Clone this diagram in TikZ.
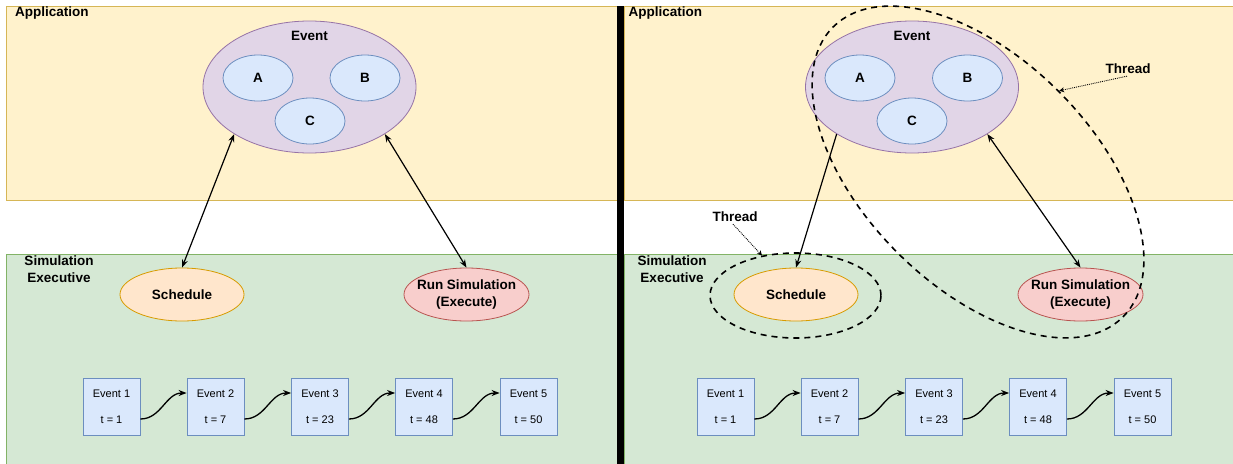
\documentclass[tikz,border=0pt]{standalone}
\usepackage{fontspec}
\setmainfont{Liberation Sans}
\usetikzlibrary{shapes.geometric,arrows.meta}
\definecolor{ylwF}{HTML}{FFF2CC}\definecolor{ylwD}{HTML}{D6B656}
\definecolor{grnF}{HTML}{D5E8D4}\definecolor{grnD}{HTML}{82B366}
\definecolor{purF}{HTML}{E1D5E7}\definecolor{purD}{HTML}{9673A6}
\definecolor{bluF}{HTML}{DAE8FC}\definecolor{bluD}{HTML}{6C8EBF}
\definecolor{orgF}{HTML}{FFE6CC}\definecolor{orgD}{HTML}{D79B00}
\definecolor{redF}{HTML}{F8CECC}\definecolor{redD}{HTML}{B85450}
\begin{document}
\begin{tikzpicture}[x=1pt,y=-1pt,
  >={Stealth[length=8pt,width=6pt]},
  lbl/.style={font=\fontsize{13.5}{16.5}\selectfont\bfseries, inner sep=0pt},
  panelY/.style={fill=ylwF, draw=ylwD, line width=0.9pt},
  panelG/.style={fill=grnF, draw=grnD, line width=0.9pt},
  bigev/.style={ellipse, draw=purD, fill=purF, line width=0.8pt, inner sep=0pt,
    minimum width=213pt, minimum height=132pt},
  subev/.style={ellipse, draw=bluD, fill=bluF, line width=0.8pt, inner sep=0pt,
    minimum width=70pt, minimum height=46pt, lbl},
  schedbox/.style={ellipse, draw=orgD, fill=orgF, line width=0.8pt, inner sep=0pt,
    minimum width=124pt, minimum height=53pt, lbl},
  runbox/.style={ellipse, draw=redD, fill=redF, line width=0.8pt, inner sep=0pt,
    minimum width=125pt, minimum height=53pt},
  evbox/.style={rectangle, draw=bluD, fill=bluF, line width=0.8pt, inner sep=0pt,
    minimum width=57pt, minimum height=57pt, align=center,
    font=\fontsize{11}{13}\selectfont},
  conn/.style={line width=1.2pt},
  chain/.style={line width=1.3pt, ->, out=0, in=180},
  threadline/.style={ellipse, draw, dash pattern=on 6pt off 5pt, line width=1.6pt,
    inner sep=0pt},
  threadarr/.style={densely dotted, line width=0.9pt, -{Stealth[length=5pt,width=5pt]}}
]
\useasboundingbox (0,0) rectangle (1233,463);
\fill[white] (0,0) rectangle (1233,463);
% panels
\draw[panelY] (6,6) rectangle (617,200);
\draw[panelG] (6,254) rectangle (617,470);
\draw[panelY] (624,6) rectangle (1240,200);
\draw[panelG] (624,254) rectangle (1240,470);
\fill[black] (617,6) rectangle (624,470);

% ---------------- left panel ----------------
\node[lbl, anchor=west] (appL) at (15,13) {Application};
\node[lbl, align=center] (simL) at (59,269) {Simulation\\Executive};
\node[bigev] (evL) at (309.5,87) {};
\node[lbl] (evLt) at (309.5,36) {Event};
\node[subev] (aL) at (258,78) {A};
\node[subev] (bL) at (365,78) {B};
\node[subev] (cL) at (310,121) {C};
\node[schedbox] (schL) at (182,294.5) {Schedule};
\node[runbox] (runL) at (466.5,294.5) {};
\node[lbl, align=center] (runLt) at (runL.center) {Run Simulation\\(Execute)};
\draw[conn,<->] (evL.212) -- (schL.north);
\draw[conn,<->] (evL.328) -- (runL.north);
\foreach \i/\x/\t in {1/111.5/1, 2/215.5/7, 3/320/23, 4/424/48, 5/528.5/50}
  \node[evbox] (lb\i) at (\x,406.5) {Event \i\\[13pt]t = \t};
\foreach \i/\j in {1/2,2/3,3/4,4/5}
  \draw[chain] ([yshift=-12.5pt]lb\i.east) to ([yshift=13.5pt]lb\j.west);

% ---------------- right panel ----------------
\node[lbl, anchor=west] (appR) at (628.5,13) {Application};
\node[lbl, align=center] (simR) at (672,269) {Simulation\\Executive};
\node[bigev] (evR) at (912,87) {};
\node[lbl] (evRt) at (912,36) {Event};
\node[subev] (aR) at (860,78) {A};
\node[subev] (bR) at (967.5,78) {B};
\node[subev] (cR) at (912,121) {C};
\node[schedbox] (schR) at (796,294.5) {Schedule};
\node[runbox] (runR) at (1080.5,294.5) {};
\node[lbl, align=center] (runRt) at (runR.center) {Run Simulation\\(Execute)};
\draw[conn,->] (evR.212) -- (schR.north);
\draw[conn,<->] (evR.328) -- (runR.north);
\foreach \i/\x/\t in {1/725.5/1, 2/829.5/7, 3/934/23, 4/1038/48, 5/1142.5/50}
  \node[evbox] (rb\i) at (\x,406.5) {Event \i\\[13pt]t = \t};
\foreach \i/\j in {1/2,2/3,3/4,4/5}
  \draw[chain] ([yshift=-12.5pt]rb\i.east) to ([yshift=13.5pt]rb\j.west);

% threads
\node[threadline, minimum width=410pt, minimum height=228pt, rotate=-45] (thrB) at (978,172) {};
\node[threadline, minimum width=171pt, minimum height=85pt] (thrA) at (795.5,295.5) {};
\node[lbl] (thRt) at (1128,69) {Thread};
\node[lbl] (thLt) at (735,217) {Thread};
\draw[threadarr] ([xshift=-1pt,yshift=-2pt]thRt.south) -- (thrB.north);
\draw[threadarr] ([xshift=-2pt,yshift=-2pt]thLt.south) -- (thrA.130);
\end{tikzpicture}
\end{document}
